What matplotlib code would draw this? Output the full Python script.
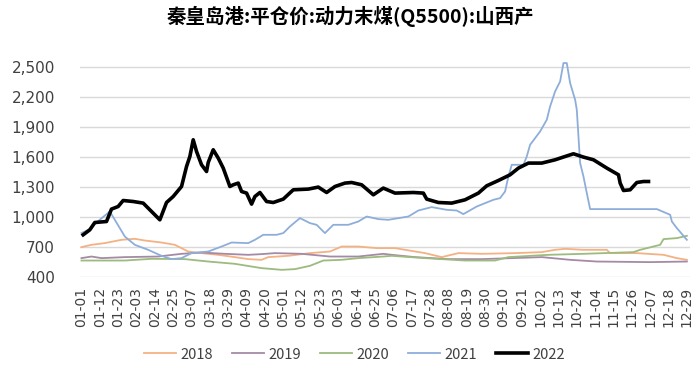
import matplotlib
matplotlib.use("Agg")
import matplotlib.pyplot as plt

plt.rcParams['font.family'] = ['Noto Sans CJK SC', 'DejaVu Sans']

# etiquetas del eje x (cada 11 días)
tick_labels = ['01-01', '01-12', '01-23', '02-03', '02-14', '02-25', '03-07', '03-18',
               '03-29', '04-09', '04-20', '05-01', '05-12', '05-23', '06-03', '06-14',
               '06-25', '07-06', '07-17', '07-28', '08-08', '08-19', '08-30', '09-10',
               '09-21', '10-02', '10-13', '10-24', '11-04', '11-15', '11-26', '12-07',
               '12-18', '12-29']
tick_pos = [i * 11 for i in range(len(tick_labels))]

# 2018
d2018 = [0, 6, 14, 24, 32, 38, 48, 56, 64, 72, 82, 92, 100, 108, 112, 124, 137, 149, 156,
         166, 177, 188, 206, 216, 226, 240, 260, 276, 284, 290, 301, 315, 317, 333, 349, 357, 363]
v2018 = [700, 723, 740, 773, 783, 766, 746, 723, 656, 640, 623, 600, 580, 573, 600, 613, 640, 656, 706,
         706, 690, 690, 640, 600, 640, 633, 640, 650, 673, 683, 673, 673, 640, 640, 623, 590, 573]

# 2019
d2019 = [0, 6, 12, 26, 46, 60, 72, 86, 100, 108, 116, 132, 149, 166, 181, 186, 200, 220, 240,
         276, 293, 309, 341, 363]
v2019 = [590, 606, 590, 600, 606, 633, 646, 633, 623, 630, 640, 633, 606, 606, 633, 623, 600, 580, 580,
         600, 573, 556, 550, 556]

# 2020
d2020 = [0, 26, 42, 62, 76, 92, 108, 120, 128, 137, 145, 156, 166, 181, 186, 206, 230, 248, 256,
         280, 301, 331, 335, 347, 349, 357, 363]
v2020 = [566, 566, 583, 580, 556, 533, 490, 473, 480, 513, 566, 573, 590, 606, 613, 590, 566, 566, 600,
         623, 633, 650, 673, 723, 780, 790, 813]

# 2021
d2021 = [0, 5, 10, 17, 20, 26, 32, 40, 48, 54, 60, 66, 76, 84, 90, 100, 104, 109, 117, 121, 125,
         131, 137, 141, 146, 151, 160, 166, 171, 178, 184, 196, 202, 210, 219, 225, 229, 237, 247,
         251, 254, 256, 258, 265, 267, 269, 275, 279, 281, 284, 287, 289, 291, 293, 296, 297, 299,
         301, 303, 305, 345, 353, 354, 357, 363]
v2021 = [840, 880, 960, 1056, 973, 806, 723, 673, 613, 580, 590, 640, 656, 706, 746, 740, 773, 823,
         823, 840, 906, 990, 940, 923, 840, 923, 923, 956, 1006, 980, 973, 1006, 1066, 1100, 1073,
         1066, 1030, 1106, 1173, 1190, 1256, 1406, 1523, 1523, 1606, 1723, 1856, 1973, 2106, 2256,
         2356, 2540, 2540, 2340, 2173, 2073, 1540, 1406, 1240, 1080, 1080, 1023, 956, 890, 773]

# 2022
d2022 = [1, 5, 8, 15, 18, 22, 25, 31, 37, 41, 47, 51, 55, 60, 63, 65, 67, 69, 72, 75, 76, 79, 82,
         85, 89, 91, 94, 96, 99, 102, 104, 107, 111, 115, 121, 127, 136, 142, 147, 152, 158, 162,
         168, 175, 181, 188, 199, 205, 207, 214, 222, 230, 238, 243, 250, 257, 262, 268, 276, 284,
         290, 295, 301, 307, 315, 322, 323, 325, 329, 333, 337, 340]
v2022 = [823, 873, 946, 956, 1080, 1106, 1166, 1156, 1140, 1073, 973, 1146, 1206, 1306, 1506, 1606,
         1773, 1656, 1523, 1456, 1546, 1673, 1590, 1490, 1306, 1323, 1340, 1256, 1240, 1130, 1206,
         1246, 1156, 1146, 1180, 1273, 1280, 1300, 1246, 1306, 1340, 1346, 1323, 1223, 1290, 1240,
         1246, 1240, 1180, 1146, 1140, 1173, 1240, 1313, 1366, 1423, 1490, 1540, 1540, 1573, 1606,
         1633, 1600, 1573, 1490, 1423, 1340, 1266, 1273, 1346, 1356, 1356]

fig = plt.figure(figsize=(7, 3.7), dpi=100)
ax = fig.add_axes([0.114, 0.251, 0.872, 0.584])

ax.plot(d2018, v2018, color='#F4B183', lw=1.3, label='2018')
ax.plot(d2019, v2019, color='#A58AA6', lw=1.3, label='2019')
ax.plot(d2020, v2020, color='#9CBB7E', lw=1.3, label='2020')
ax.plot(d2021, v2021, color='#8EAEDA', lw=1.3, label='2021', clip_on=False)
ax.plot(d2022, v2022, color='black', lw=2.6, label='2022')

ax.set_xlim(-1, 365)
ax.set_ylim(400, 2560)
ax.set_yticks(range(400, 2501, 300))
ax.set_yticklabels([f'{v:,}' for v in range(400, 2501, 300)], fontsize=11,
                   color='#404040', family='DejaVu Sans')
ax.set_xticks(tick_pos)
ax.set_xticklabels(tick_labels, rotation=90, fontsize=10, color='#404040', family='DejaVu Sans')
ax.tick_params(axis='x', length=0, pad=7)
ax.tick_params(axis='y', length=0, pad=18)
ax.grid(axis='y', color='#D9D9D9', lw=1)
ax.set_axisbelow(True)
for s in ax.spines.values():
    s.set_visible(False)

fig.suptitle('秦皇岛港:平仓价:动力末煤(Q5500):山西产', x=0.5, y=0.985,
             fontsize=14, fontweight='bold')

ax.legend(loc='upper center', bbox_to_anchor=(0.45, -0.265), ncol=5, frameon=False,
          fontsize=10.5, handlelength=2.2, columnspacing=1.3, handletextpad=0.3,
          labelcolor='#404040')

plt.savefig('out.png')
